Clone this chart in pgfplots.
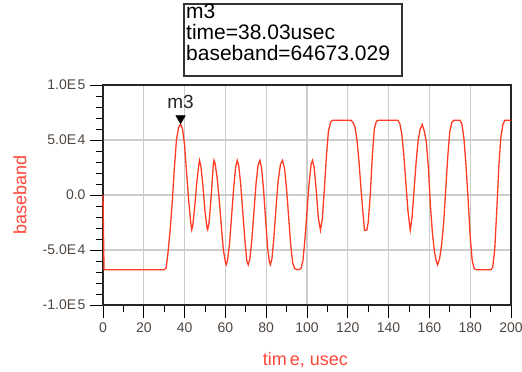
\documentclass[border=0pt]{standalone}
\usepackage{pgfplots}
\pgfplotsset{compat=1.18}
\usepackage{fontspec}
\setmainfont{Liberation Sans}

\definecolor{trace}{RGB}{255,59,36}
\definecolor{labred}{RGB}{255,70,55}
\definecolor{ticktext}{RGB}{80,70,64}
\definecolor{gridgray}{RGB}{205,205,205}

% baseband waveform (time in usec)
\pgfplotstableread{
t v
0 0
0.5 -68000
30 -68000
31 -66000
32 -50000
33 -30000
34 -5000
35 25000
36 50000
37 61000
38.03 64673
39 60000
40 45000
41 20000
42 -5000
43 -25000
43.5 -31500
44 -28000
45 -10000
46 12000
47 28000
47.3 31500
48 26000
49 8000
50 -15000
51 -30000
51.3 -31500
52 -25000
53 -2000
54 26000
54.4 31500
55 28000
56 15000
57 -5000
58 -28000
59 -50000
60 -61000
60.4 -63400
61 -60000
62 -45000
63 -20000
64 5000
65 25000
65.8 31500
66.5 27000
67.5 10000
68.5 -15000
69.5 -40000
70.5 -60000
71.2 -63400
72 -58000
73 -40000
74 -15000
75 10000
76 27000
76.9 31500
77.7 25000
78.7 5000
79.7 -22000
80.7 -48000
81.5 -60000
82 -63400
82.8 -58000
83.8 -38000
84.8 -12000
85.8 12000
87 28000
88 31500
89 24000
90 5000
91 -20000
92 -45000
93 -62000
94 -67000
95.5 -68000
97 -67000
98 -60000
99 -40000
100 -15000
101 10000
102 28000
102.7 31500
103.5 25000
104.5 5000
105.5 -20000
106.6 -32000
107.5 -22000
108.5 5000
109.5 35000
110.5 58000
111.5 66000
112.5 68000
121.5 68000
122.5 66000
123.5 62000
124.5 50000
125.5 30000
126.5 5000
127.5 -18000
128.2 -32000
129.3 -32000
130 -25000
131 0
132 35000
133 60000
134 67000
135 68000
144.5 68000
145.5 65000
146.5 55000
147.5 35000
148.5 10000
149.5 -15000
150.6 -32000
151.5 -20000
152.5 5000
153.5 30000
154.5 50000
155.5 60000
156.5 64000
157.5 58000
158.5 48000
159.5 25000
160.5 -10000
161.5 -35000
162.5 -52000
163.5 -61000
164 -63400
165 -58000
166 -45000
167 -25000
168 5000
169 35000
170 58000
171 66000
172 68000
175 68000
176 64000
177 50000
178 25000
179 -5000
180 -38000
181 -60000
182 -67000
183 -68000
190 -68000
191 -66000
192 -50000
193 -15000
194 25000
195 52000
196 64000
197 68000
200 68000
}\baseband

\begin{document}
\begin{tikzpicture}[x=1bp,y=1bp]
\path[use as bounding box] (0,0) rectangle (522,371);

% marker readout box
\draw[line width=1.3bp, black!80] (184,295) rectangle (402,367);
\begin{scope}[every node/.style={anchor=base west, inner sep=0pt,
    font=\fontsize{21bp}{21bp}\selectfont}]
  \node at (186,352.5) {m3};
  \node at (186,331.7) {time=38.03usec};
  \node at (186,311) {baseband=64673.029};
\end{scope}

\begin{axis}[
  at={(103bp,66bp)}, anchor=south west,
  scale only axis, width=408bp, height=220bp,
  xmin=0, xmax=200, ymin=-100000, ymax=100000,
  xtick={0,20,...,200},
  xticklabels={0,20,40,60,80,100,120,140,160,180,200},
  ytick={-100000,-50000,0,50000,100000},
  yticklabels={-1.0E\kern1.5bp5,-5.0E\kern1.5bp4,0.0,5.0E\kern1.5bp4,1.0E\kern1.5bp5},
  minor x tick num=1, minor y tick num=4,
  xtick pos=left, ytick pos=left,
  tick align=outside,
  major tick length=13bp, minor tick length=7bp,
  every tick/.style={black, line width=1bp},
  scaled y ticks=false,
  grid=major,
  major grid style={gridgray, line width=1.2bp},
  axis line style={black!85, line width=1.1bp},
  tick label style={font=\fontsize{14bp}{17bp}\selectfont, text=ticktext},
  yticklabel style={xshift=-1bp},
  xticklabel style={yshift=-1bp},
  xlabel={tim\kern3bp e, usec},
  ylabel={baseband},
  label style={font=\fontsize{18bp}{20bp}\selectfont, text=labred},
  xlabel style={at={(axis description cs:0.496,-0.25)}, anchor=center},
  ylabel style={at={(axis description cs:-0.2034,0.5)}, anchor=center},
  clip=false,
]
\addplot[trace, line width=1.3bp] table[x=t, y=v] {\baseband};
% marker m3 at the first peak
\addplot[only marks, mark=triangle*, mark size=5.5bp,
  mark options={fill=black, draw=black, yshift=5.5bp, rotate=180}]
  coordinates {(38.03,64673)};
\node[font=\fontsize{19bp}{20bp}\selectfont, text=black!85, anchor=base]
  at (axis cs:38.03,64673) [yshift=15bp] {m3};
\end{axis}
\end{tikzpicture}
\end{document}
